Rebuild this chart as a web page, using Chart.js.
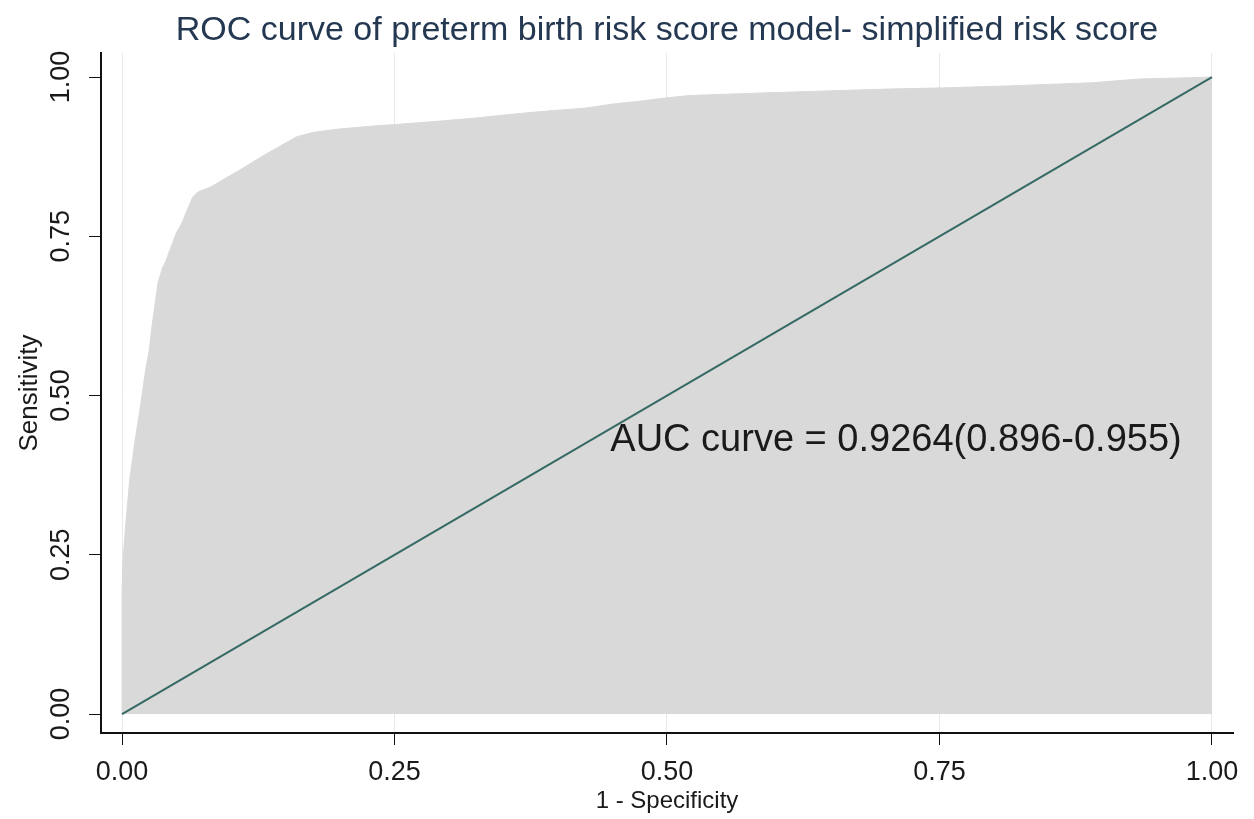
<!DOCTYPE html>
<html>
<head>
<meta charset="utf-8">
<script src="https://cdn.jsdelivr.net/npm/chart.js@4.4.1/dist/chart.umd.min.js"></script>
<style>
  html, body { margin: 0; padding: 0; background: #ffffff; }
  #wrap { width: 1254px; height: 819px; }
</style>
</head>
<body>
<div id="wrap"><canvas id="c" width="1254" height="819"></canvas></div>
<script>
// ---- data ----
const rocFpr = [0, 0, 0.001, 0.004, 0.007, 0.012, 0.016, 0.019, 0.022, 0.025, 0.027, 0.030, 0.033, 0.037, 0.040, 0.044, 0.050, 0.055, 0.059, 0.065, 0.070, 0.081, 0.108, 0.133, 0.160, 0.175, 0.197, 0.230, 0.255, 0.293, 0.327, 0.360, 0.393, 0.424, 0.452, 0.475, 0.498, 0.521, 0.588, 0.701, 0.754, 0.813, 0.890, 0.934, 0.983, 1];
const rocTpr = [0, 0.19, 0.246, 0.309, 0.367, 0.43, 0.473, 0.508, 0.544, 0.571, 0.603, 0.639, 0.677, 0.700, 0.710, 0.729, 0.756, 0.771, 0.788, 0.812, 0.820, 0.827, 0.854, 0.880, 0.906, 0.913, 0.918, 0.923, 0.926, 0.931, 0.936, 0.942, 0.947, 0.951, 0.958, 0.962, 0.967, 0.971, 0.975, 0.981, 0.983, 0.986, 0.991, 0.997, 0.999, 1];
const refX = [0, 1];
const refY = [0, 1];
const xTickValues = [0, 0.25, 0.5, 0.75, 1];
const yTickValues = [0, 0.25, 0.5, 0.75, 1];
const chartTitle = "ROC curve of preterm birth risk score model- simplified risk score";
const xTitle = "1 - Specificity";
const yTitle = "Sensitivity";
const aucLabel = "AUC curve = 0.9264(0.896-0.955)";
const aucPos = [0.448, 0.43];

const FONT = "'Liberation Sans', Arial, sans-serif";

const rocPoints = rocFpr.map((x, i) => ({ x: x, y: rocTpr[i] }));
const refPoints = refX.map((x, i) => ({ x: x, y: refY[i] }));

const textPlugin = {
  id: 'texts',
  afterDraw(chart) {
    const ctx = chart.ctx;
    const area = chart.chartArea;
    ctx.save();
    ctx.fillStyle = '#243852';
    ctx.font = "34px " + FONT;
    ctx.textAlign = 'center';
    ctx.textBaseline = 'middle';
    ctx.fillText(chartTitle, (area.left + area.right) / 2, 31);
    ctx.fillStyle = '#1a1a1a';
    ctx.font = "38px " + FONT;
    ctx.textAlign = 'left';
    ctx.fillText(aucLabel, chart.scales.x.getPixelForValue(aucPos[0]), chart.scales.y.getPixelForValue(aucPos[1]));
    ctx.restore();
  }
};

new Chart(document.getElementById('c'), {
  type: 'scatter',
  data: {
    datasets: [
      {
        label: 'Reference',
        data: refPoints,
        showLine: true,
        borderColor: '#356a64',
        borderWidth: 2,
        pointRadius: 0,
        fill: false
      },
      {
        label: 'ROC',
        data: rocPoints,
        showLine: true,
        borderColor: '#d9d9d9',
        borderWidth: 1,
        backgroundColor: '#d9d9d9',
        pointRadius: 0,
        fill: 'origin',
        tension: 0
      }
    ]
  },
  options: {
    responsive: false,
    animation: false,
    layout: { padding: { top: 53, right: 21, left: 0, bottom: 0 } },
    plugins: {
      legend: { display: false },
      title: { display: false },
      tooltip: { enabled: false }
    },
    scales: {
      x: {
        type: 'linear',
        min: -0.0193,
        max: 1.0193,
        afterFit: s => { s.height = 86; },
        afterBuildTicks: s => { s.ticks = xTickValues.map(v => ({ value: v })); },
        grid: { color: '#e4eaee', lineWidth: 1, tickColor: '#111', tickLength: 12, drawTicks: true },
        border: { color: '#111', width: 2 },
        ticks: {
          color: '#1a1a1a',
          font: { family: FONT, size: 27 },
          padding: 11,
          maxRotation: 0,
          minRotation: 0,
          callback: v => Number(v).toFixed(2)
        },
        title: {
          display: true,
          text: xTitle,
          color: '#1a1a1a',
          font: { family: FONT, size: 24 },
          padding: { top: 0, bottom: 3 }
        }
      },
      y: {
        type: 'linear',
        min: -0.0298,
        max: 1.0377,
        afterFit: s => { s.width = 101; },
        afterBuildTicks: s => { s.ticks = yTickValues.map(v => ({ value: v })); },
        grid: { color: 'rgba(0,0,0,0)', tickColor: '#111', tickLength: 12, drawTicks: true },
        border: { color: '#111', width: 2 },
        ticks: {
          color: '#1a1a1a',
          font: { family: FONT, size: 27 },
          padding: 1,
          minRotation: 90,
          maxRotation: 90,
          crossAlign: 'center',
          callback: v => Number(v).toFixed(2)
        },
        title: {
          display: true,
          text: yTitle,
          color: '#1a1a1a',
          font: { family: FONT, size: 26 },
          padding: { top: 14, bottom: 0 }
        }
      }
    }
  },
  plugins: [textPlugin]
});
</script>
</body>
</html>
